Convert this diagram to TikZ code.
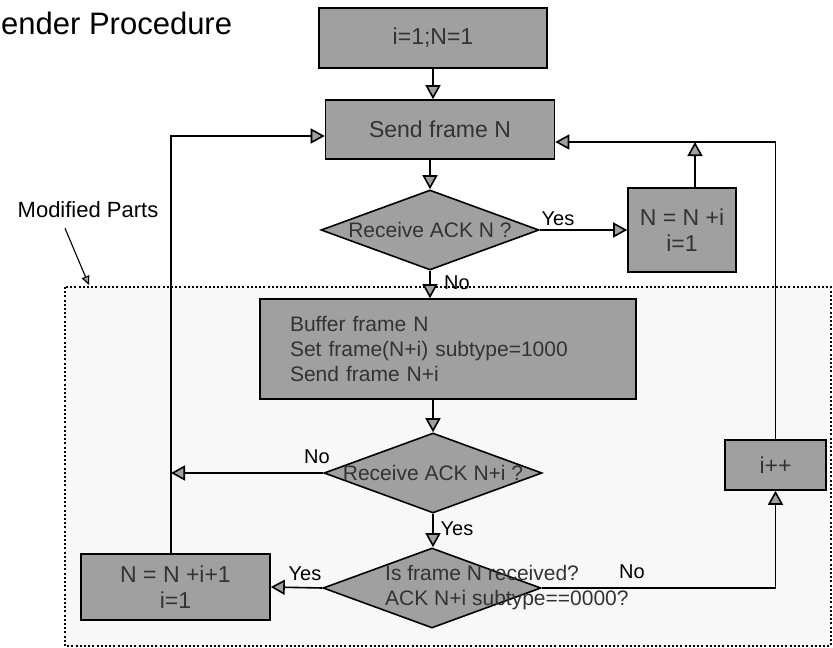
\documentclass[tikz,border=0pt]{standalone}
\usepackage{fontspec}
\setmainfont{Liberation Sans}
\usetikzlibrary{arrows.meta,shapes.geometric}
\definecolor{boxgrey}{RGB}{160,160,160}
\definecolor{zonegrey}{RGB}{248,248,248}
\tikzset{
  wire/.style={black,line width=1.6pt},
  flow/.style={wire,-{Triangle[length=14pt,width=15pt,fill=boxgrey]}},
  pointer/.style={black,line width=1.1pt,-{Triangle[length=9pt,width=8pt,fill=boxgrey]}},
  procbox/.style={draw=black,line width=1.6pt,fill=boxgrey,inner sep=2pt,align=center,
                  text=black!80,font=\fontsize{23}{26}\selectfont},
  decision/.style={diamond,draw=black,line width=1.6pt,fill=boxgrey,inner sep=0pt,
                   minimum width=218pt,minimum height=80pt},
  dtext/.style={inner sep=0pt,text=black!80,font=\fontsize{21}{25}\selectfont},
  lab/.style={inner sep=0pt,font=\fontsize{20}{24}\selectfont},
  zone/.style={black,line width=2.4pt,dash pattern=on 2pt off 2.2pt,fill=zonegrey},
}

\begin{document}
\begin{tikzpicture}[x=1pt,y=-1pt]
  \path[use as bounding box] (0,0) rectangle (833,648);
  \draw[zone] (65,287) rectangle (831,646);

  \node[anchor=base west,inner sep=0pt,font=\fontsize{31}{35}\selectfont] (title) at (1,34)
    {ender Procedure};
  \node[lab,font=\fontsize{22}{26}\selectfont] (modl) at (88,210) {Modified Parts};
  \coordinate (modtip) at (89,285);
  \draw[pointer] ([shift={(-23,10)}]modl.south) -- (modtip);

  \node[procbox,minimum width=228pt,minimum height=60pt] (init) at (433,38) {i=1;N=1};
  \node[procbox,minimum width=229pt,minimum height=59pt] (send) at (440,129.5) {Send frame N};
  \node[decision] (ack) at (430,230) {};
  \node[dtext] (ackt) at (ack) {Receive ACK N ?};
  \node[procbox,minimum width=108pt,minimum height=84pt] (upd1) at (682,230) {N = N +i\\i=1};

  \node[procbox,align=left,text width=316pt,minimum height=100pt,inner xsep=30pt,
        font=\fontsize{21}{25}\selectfont] (buf) at (448,349)
    {Buffer frame N\\Set frame(N+i) subtype=1000\\Send frame N+i};
  \node[decision] (ack2) at (433,473) {};
  \node[dtext] (ack2t) at (ack2) {Receive ACK N+i ?};
  \node[decision] (ack3) at (432,588) {};
  \node[dtext,align=left,anchor=west] (ack3t) at ([xshift=-47pt]ack3.center)
    {Is frame N received?\\ACK N+i subtype==0000?};
  \node[procbox,minimum width=101pt,minimum height=50pt] (inc) at (775.5,465) {i++};
  \node[procbox,minimum width=189pt,minimum height=66pt] (upd2) at (175.5,587) {N = N +i+1\\i=1};

  \coordinate (lp) at (171,136);
  \coordinate (rp) at (775,142);

  \draw[flow] (init.south) -- (init.south |- send.north);
  \draw[flow] (ack.north |- send.south) -- (ack.north);
  \draw[flow] (ack.east) -- (upd1.west);
  \draw[flow] ([xshift=13pt]upd1.north) -- ([xshift=13pt]upd1.north |- rp);
  \draw[flow] (ack.south) -- (ack.south |- buf.north);
  \draw[flow] (ack2.north |- buf.south) -- (ack2.north);
  \draw[flow] (ack2.west) -- (lp |- ack2.west);
  \draw[flow] (ack2.south) -- (ack2.south |- ack3.north);
  \draw[flow] (ack3.west) -- (upd2.east);
  \draw[flow] (ack3.east) -| (inc.south);
  \draw[flow] (inc.north) |- (send.east |- rp);
  \draw[flow] (upd2.north -| lp) |- (send.west |- lp);

  \node[lab] (yes1) at (558,219) {Yes};
  \node[lab] (no1) at (457,283) {No};
  \node[lab] (no2) at (317,457) {No};
  \node[lab] (yes2) at (457,529) {Yes};
  \node[lab] (yes3) at (305,574) {Yes};
  \node[lab] (no3) at (632,572) {No};
\end{tikzpicture}
\end{document}
